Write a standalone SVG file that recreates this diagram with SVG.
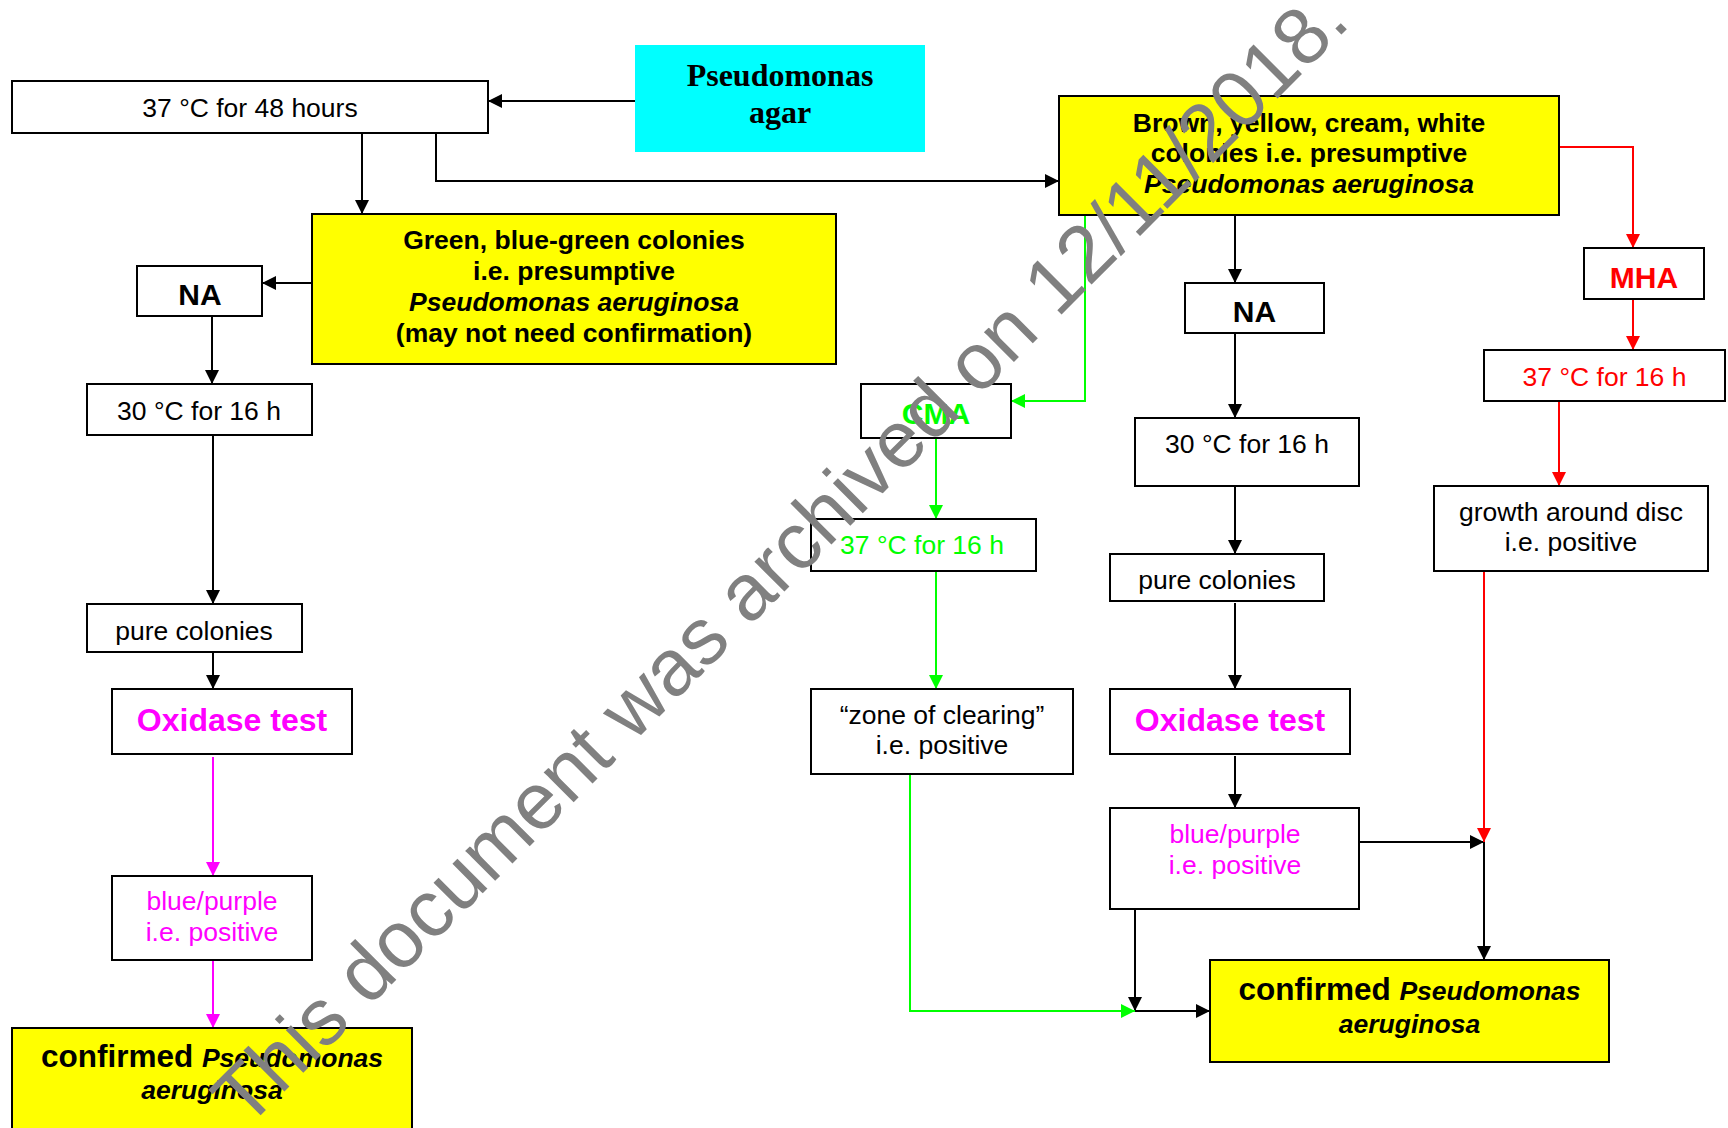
<svg xmlns="http://www.w3.org/2000/svg" width="1728" height="1128" viewBox="0 0 1728 1128">
<style>
.box{fill:#fff;stroke:#000;stroke-width:2}
.yb{fill:#ffff00;stroke:#000;stroke-width:2}
.t{font-family:"Liberation Sans",Arial,sans-serif;font-size:26.5px;text-anchor:middle;fill:#000}
.b{font-weight:bold}
.big{font-size:30px;font-weight:bold}
.ox{font-size:32px;font-weight:bold;fill:#ff00ff}
.mag{fill:#ff00ff}
.grn{fill:#00ff00}
.red{fill:#ff0000}
.conf{font-size:31.5px;font-weight:bold}
.it{font-style:italic;font-size:26.5px}
.k{fill:none;stroke:#000;stroke-width:2}
.kg{fill:none;stroke:#00ff00;stroke-width:2}
.kr{fill:none;stroke:#ff0000;stroke-width:2}
.km{fill:none;stroke:#ff00ff;stroke-width:2}
</style>
<defs>
<marker id="ak" markerUnits="userSpaceOnUse" markerWidth="14" markerHeight="14" refX="14" refY="7" orient="auto"><path d="M0,0 L14,7 L0,14 z" fill="#000"/></marker>
<marker id="ag" markerUnits="userSpaceOnUse" markerWidth="14" markerHeight="14" refX="14" refY="7" orient="auto"><path d="M0,0 L14,7 L0,14 z" fill="#00ff00"/></marker>
<marker id="ar" markerUnits="userSpaceOnUse" markerWidth="14" markerHeight="14" refX="14" refY="7" orient="auto"><path d="M0,0 L14,7 L0,14 z" fill="#ff0000"/></marker>
<marker id="am" markerUnits="userSpaceOnUse" markerWidth="14" markerHeight="14" refX="14" refY="7" orient="auto"><path d="M0,0 L14,7 L0,14 z" fill="#ff00ff"/></marker>
</defs>
<rect width="1728" height="1128" fill="#fff"/>

<g id="connectors">
<path class="k" d="M635,101 L488,101" marker-end="url(#ak)"/>
<path class="k" d="M362,133 L362,214" marker-end="url(#ak)"/>
<path class="k" d="M436,133 L436,181 L1059,181" marker-end="url(#ak)"/>
<path class="k" d="M312,283 L262,283" marker-end="url(#ak)"/>
<path class="k" d="M212,316 L212,384" marker-end="url(#ak)"/>
<path class="k" d="M213,435 L213,604" marker-end="url(#ak)"/>
<path class="k" d="M213,652 L213,689" marker-end="url(#ak)"/>
<path class="k" d="M1235,215 L1235,283" marker-end="url(#ak)"/>
<path class="k" d="M1235,333 L1235,418" marker-end="url(#ak)"/>
<path class="k" d="M1235,486 L1235,554" marker-end="url(#ak)"/>
<path class="k" d="M1235,603 L1235,689" marker-end="url(#ak)"/>
<path class="k" d="M1235,756 L1235,808" marker-end="url(#ak)"/>
<path class="k" d="M1359,842 L1484,842" marker-end="url(#ak)"/>
<path class="k" d="M1484,842 L1484,960" marker-end="url(#ak)"/>
<path class="k" d="M1135,909 L1135,1011" marker-end="url(#ak)"/>
<path class="k" d="M1135,1011 L1210,1011" marker-end="url(#ak)"/>
<path class="km" d="M213,757 L213,876" marker-end="url(#am)"/>
<path class="km" d="M213,960 L213,1028" marker-end="url(#am)"/>
<path class="kg" d="M1085,215 L1085,401 L1011,401" marker-end="url(#ag)"/>
<path class="kg" d="M936,438 L936,519" marker-end="url(#ag)"/>
<path class="kg" d="M936,571 L936,689" marker-end="url(#ag)"/>
<path class="kg" d="M910,774 L910,1011 L1135,1011" marker-end="url(#ag)"/>
<path class="kr" d="M1559,147 L1633,147 L1633,248" marker-end="url(#ar)"/>
<path class="kr" d="M1633,299 L1633,350" marker-end="url(#ar)"/>
<path class="kr" d="M1559,401 L1559,486" marker-end="url(#ar)"/>
<path class="kr" d="M1484,571 L1484,842" marker-end="url(#ar)"/>
</g>

<g id="n48h"><rect class="box" x="12" y="81" width="476" height="52"/><text class="t" x="250" y="117">37 °C for 48 hours</text></g>
<g id="agar"><rect x="635" y="45" width="290" height="107" fill="#00ffff"/><text x="780" y="86" font-family="'Liberation Serif','Times New Roman',serif" font-size="32" font-weight="bold" text-anchor="middle">Pseudomonas</text><text x="780" y="123" font-family="'Liberation Serif','Times New Roman',serif" font-size="32" font-weight="bold" text-anchor="middle">agar</text></g>
<g id="greenCol"><rect class="yb" x="312" y="214" width="524" height="150"/>
<text class="t b" x="574" y="249">Green, blue-green colonies</text>
<text class="t b" x="574" y="280">i.e. presumptive</text>
<text class="t b" x="574" y="311" font-style="italic">Pseudomonas aeruginosa</text>
<text class="t b" x="574" y="342">(may not need confirmation)</text></g>
<g id="naL"><rect class="box" x="137" y="266" width="125" height="50"/><text class="t big" x="200" y="305">NA</text></g>
<g id="t30L"><rect class="box" x="87" y="384" width="225" height="51"/><text class="t" x="199" y="420">30 °C for 16 h</text></g>
<g id="pureL"><rect class="box" x="87" y="604" width="215" height="48"/><text class="t" x="194" y="640">pure colonies</text></g>
<g id="oxL"><rect class="box" x="112" y="689" width="240" height="65"/><text class="t ox" x="232" y="731">Oxidase test</text></g>
<g id="blueL"><rect class="box" x="112" y="876" width="200" height="84"/><text class="t mag" x="212" y="910">blue/purple</text><text class="t mag" x="212" y="941">i.e. positive</text></g>
<g id="confL"><rect class="yb" x="12" y="1028" width="400" height="120"/><text class="t" x="212" y="1067"><tspan class="conf">confirmed </tspan><tspan class="b it">Pseudomonas</tspan></text><text class="t b it" x="212" y="1099">aeruginosa</text></g>

<g id="brown"><rect class="yb" x="1059" y="96" width="500" height="119"/>
<text class="t b" x="1309" y="132">Brown, yellow, cream, white</text>
<text class="t b" x="1309" y="162">colonies i.e. presumptive</text>
<text class="t b" x="1309" y="193" font-style="italic">Pseudomonas aeruginosa</text></g>
<g id="naR"><rect class="box" x="1185" y="283" width="139" height="50"/><text class="t big" x="1254.5" y="322">NA</text></g>
<g id="t30R"><rect class="box" x="1135" y="418" width="224" height="68"/><text class="t" x="1247" y="453">30 °C for 16 h</text></g>
<g id="pureR"><rect class="box" x="1110" y="554" width="214" height="47"/><text class="t" x="1217" y="589">pure colonies</text></g>
<g id="oxR"><rect class="box" x="1110" y="689" width="240" height="65"/><text class="t ox" x="1230" y="731">Oxidase test</text></g>
<g id="blueR"><rect class="box" x="1110" y="808" width="249" height="101"/><text class="t mag" x="1235" y="843">blue/purple</text><text class="t mag" x="1235" y="874">i.e. positive</text></g>
<g id="confR"><rect class="yb" x="1210" y="960" width="399" height="102"/><text class="t" x="1409.5" y="1000"><tspan class="conf">confirmed </tspan><tspan class="b it">Pseudomonas</tspan></text><text class="t b it" x="1409.5" y="1033">aeruginosa</text></g>

<g id="cma"><rect class="box" x="861" y="384" width="150" height="54"/><text class="t big grn" x="936" y="424">CMA</text></g>
<g id="t37G"><rect class="box" x="811" y="519" width="225" height="52"/><text class="t grn" x="922" y="554">37 °C for 16 h</text></g>
<g id="zone"><rect class="box" x="811" y="689" width="262" height="85"/><text class="t" x="942" y="724">“zone of clearing”</text><text class="t" x="942" y="754">i.e. positive</text></g>

<g id="mha"><rect class="box" x="1584" y="248" width="120" height="51"/><text class="t big red" x="1644" y="288">MHA</text></g>
<g id="t37R"><rect class="box" x="1484" y="350" width="241" height="51"/><text class="t red" x="1604.5" y="386">37 °C for 16 h</text></g>
<g id="growth"><rect class="box" x="1434" y="486" width="274" height="85"/><text class="t" x="1571" y="521">growth around disc</text><text class="t" x="1571" y="551">i.e. positive</text></g>

<text x="246" y="1130" transform="rotate(-45 246 1130)" font-family="'Liberation Sans',Arial,sans-serif" font-size="80" fill="#808080">This document was archived on 12/11/2018.</text>
</svg>
